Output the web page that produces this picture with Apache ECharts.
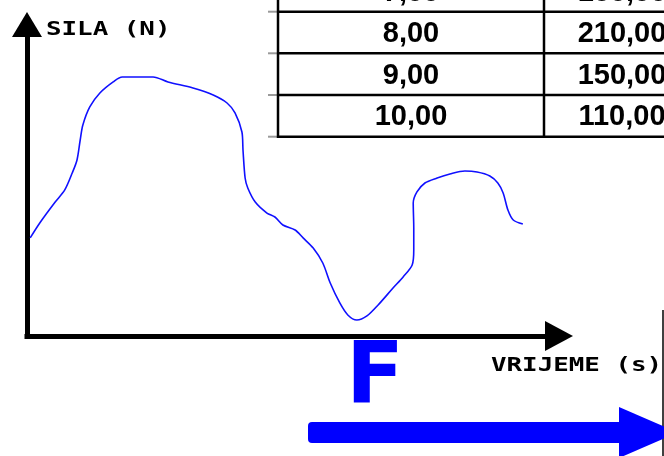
<html lang="hr">
<head>
    <meta charset="UTF-8">
    <title>Sila - vrijeme</title>
    <script type="text/javascript" src="https://cdn.jsdelivr.net/npm/echarts@6/dist/echarts.min.js"></script>
</head>
<style>
    html, body { margin: 0; padding: 0; background: #fff; }
    #container { width: 664px; height: 456px; }
</style>
<body>
<div id="container"></div>
<script>

    // krivulja sile: vrijeme (s) i sila (N)
    var vrijeme = [0.06, 0.24, 0.53, 0.71, 0.85, 0.94, 1.00, 1.05, 1.18, 1.37, 1.62, 1.79,
        2.37, 2.65, 3.12, 3.50, 3.76, 3.91, 4.04, 4.06, 4.10, 4.15, 4.29, 4.51, 4.66, 4.81,
        5.04, 5.19, 5.38, 5.56, 5.70, 5.88, 6.03, 6.20, 6.39, 6.60, 6.88, 7.07, 7.24, 7.27,
        7.27, 7.26, 7.33, 7.48, 7.71, 7.95, 8.23, 8.46, 8.70, 8.85, 8.95, 9.04, 9.14, 9.32];
    var sila = [78.7, 90.7, 107.5, 117.2, 130.8, 141.3, 157.3, 169.3, 183.8, 195.0, 203.9, 207.9,
        207.9, 203.9, 199.0, 193.4, 187.0, 179.0, 163.7, 149.3, 126.8, 118.8, 107.5, 98.7, 95.5, 89.1,
        85.1, 78.7, 70.6, 58.6, 42.5, 26.5, 16.9, 12.8, 16.1, 24.9, 38.5, 47.4, 57.0, 69.0,
        86.7, 106.7, 115.6, 122.8, 126.8, 130.0, 132.4, 131.6, 128.4, 122.8, 114.8, 101.1, 93.1, 89.9];

    // tablica u kutu
    var tablicaVrijeme = ['7,00', '8,00', '9,00', '10,00'];
    var tablicaSila = ['180,00', '210,00', '150,00', '110,00'];

    var osX = 'VRIJEME (s)';
    var osY = 'SILA (N)';

    var chart = echarts.init(document.getElementById('container'), null, {renderer: 'canvas'});

    var podaci = vrijeme.map(function (t, i) { return [t, sila[i]]; });

    // tablica kao graphic elementi
    var tablica = [];
    var redovi = [-30, 11.7, 53.3, 95, 136.7];
    var stupci = [278, 544, 700];
    for (var r = 1; r < redovi.length; r++) {
        tablica.push({
            type: 'line', silent: true,
            shape: {x1: 268, y1: redovi[r], x2: 278, y2: redovi[r]},
            style: {stroke: '#9a9a9a', lineWidth: 2}
        });
        tablica.push({
            type: 'line', silent: true,
            shape: {x1: 278, y1: redovi[r], x2: 664, y2: redovi[r]},
            style: {stroke: '#000', lineWidth: 2.5}
        });
    }
    tablica.push({
        type: 'line', silent: true,
        shape: {x1: stupci[0], y1: 0, x2: stupci[0], y2: 138},
        style: {stroke: '#000', lineWidth: 2.5}
    });
    tablica.push({
        type: 'line', silent: true,
        shape: {x1: stupci[1], y1: 0, x2: stupci[1], y2: 138},
        style: {stroke: '#000', lineWidth: 2.5}
    });
    for (var i = 0; i < tablicaVrijeme.length; i++) {
        var cy = (redovi[i] + redovi[i + 1]) / 2 + 1.5;
        if (i === 0) cy = -7;
        tablica.push({
            type: 'text', silent: true, x: (stupci[0] + stupci[1]) / 2, y: cy,
            style: {
                text: tablicaVrijeme[i], fill: '#000', align: 'center', verticalAlign: 'middle',
                font: 'bold 29px "Liberation Sans", Arial, sans-serif'
            }
        });
        tablica.push({
            type: 'text', silent: true, x: (stupci[1] + stupci[2]) / 2, y: cy,
            style: {
                text: tablicaSila[i], fill: '#000', align: 'center', verticalAlign: 'middle',
                font: 'bold 29px "Liberation Sans", Arial, sans-serif'
            }
        });
    }

    var option = {
        backgroundColor: '#fff',
        animation: false,
        grid: {left: 27, top: 24.5, width: 532, height: 311.5},
        xAxis: {
            type: 'value', min: 0, max: 10,
            axisLine: {
                show: true,
                symbol: ['none', 'triangle'],
                symbolSize: [30, 28],
                lineStyle: {color: '#000', width: 5, cap: 'square'}
            },
            axisTick: {show: false},
            axisLabel: {show: false},
            splitLine: {show: false}
        },
        yAxis: {
            type: 'value', min: 0, max: 250,
            axisLine: {
                show: true,
                symbol: ['none', 'triangle'],
                symbolSize: [30, 25],
                lineStyle: {color: '#000', width: 5, cap: 'square'}
            },
            axisTick: {show: false},
            axisLabel: {show: false},
            splitLine: {show: false}
        },
        series: [
            {
                name: 'F',
                type: 'line',
                data: podaci,
                smooth: 0.3,
                showSymbol: false,
                lineStyle: {color: '#1010ff', width: 1.6}
            }
        ],
        graphic: tablica.concat([
            {
                type: 'text', silent: true, x: 46, y: 30, scaleX: 1.36,
                style: {
                    text: osY, fill: '#000', align: 'left', verticalAlign: 'middle',
                    font: 'bold 19px "DejaVu Sans Mono", monospace'
                }
            },
            {
                type: 'text', silent: true, x: 491, y: 366, scaleX: 1.36,
                style: {
                    text: osX, fill: '#000', align: 'left', verticalAlign: 'middle',
                    font: 'bold 19px "DejaVu Sans Mono", monospace'
                }
            },
            {
                type: 'line', silent: true,
                shape: {x1: 663, y1: 310, x2: 663, y2: 456},
                style: {stroke: '#000', lineWidth: 1.5}
            },
            {
                type: 'text', silent: true, x: 346, y: 380,
                style: {
                    text: 'F', fill: '#0000ff', align: 'left', verticalAlign: 'middle',
                    font: 'bold 85px "DejaVu Sans", sans-serif'
                }
            },
            {
                type: 'rect', silent: true,
                shape: {x: 308, y: 422, width: 320, height: 21, r: 4},
                style: {fill: '#0000ff'}
            },
            {
                type: 'polygon', silent: true,
                shape: {points: [[619, 407], [678, 432.5], [619, 458]]},
                style: {fill: '#0000ff'}
            }
        ])
    };

    chart.setOption(option);
</script>
</body>
</html>
